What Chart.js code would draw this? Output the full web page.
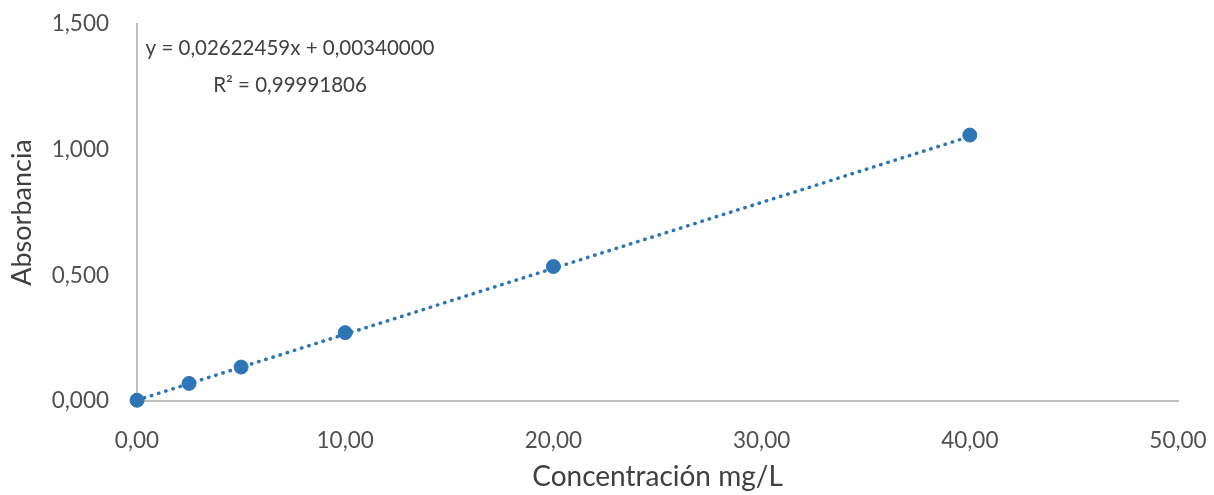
<!DOCTYPE html>
<html>
<head>
<meta charset="utf-8">
<script src="https://cdn.jsdelivr.net/npm/chart.js@4/dist/chart.umd.min.js"></script>
<style>
  html, body { margin: 0; padding: 0; background: #ffffff; }
  #wrap { width: 1214px; height: 495px; position: relative; }
</style>
</head>
<body>
<div id="wrap"><canvas id="c" width="1214" height="495"></canvas></div>
<script>
// Data
const concentrations = [0, 2.5, 5, 10, 20, 40];
const absorbances = [0.003, 0.070, 0.135, 0.272, 0.535, 1.058];
// Trendline endpoints (from the chart's fitted equation)
const trendX = [0, 40];
const trendY = [0.0034, 1.0524];
const equationLines = ["y = 0,02622459x + 0,00340000", "R² = 0,99991806"];
const xTitle = "Concentración mg/L";
const yTitle = "Absorbancia";

const FONT = "Lato, 'Open Sans', sans-serif";
const TEXT = "#404040";
const TICK = "#505050";
const BLUE = "#2e75b6";
const AXIS = "#bfbfbf";

const fmt = (v, d) => v.toFixed(d).replace('.', ',');

const equationPlugin = {
  id: 'equation',
  afterDraw(chart) {
    const ctx = chart.ctx;
    ctx.save();
    ctx.fillStyle = TEXT;
    ctx.font = "20.5px " + FONT;
    ctx.textAlign = 'center';
    ctx.textBaseline = 'middle';
    ctx.fillText(equationLines[0], 290, 48);
    ctx.fillText(equationLines[1], 290, 85);
    ctx.restore();
  }
};

new Chart(document.getElementById('c'), {
  type: 'scatter',
  data: {
    datasets: [
      {
        label: 'Tendencia',
        data: trendX.map((x, i) => ({ x, y: trendY[i] })),
        showLine: true,
        borderColor: BLUE,
        borderWidth: 3.5,
        borderDash: [0.5, 7],
        borderCapStyle: 'round',
        pointRadius: 0,
        fill: false,
        order: 2
      },
      {
        label: 'Absorbancia',
        data: concentrations.map((x, i) => ({ x, y: absorbances[i] })),
        backgroundColor: BLUE,
        borderColor: BLUE,
        pointRadius: 7,
        pointHoverRadius: 7,
        showLine: false,
        order: 1
      }
    ]
  },
  options: {
    responsive: false,
    animation: false,
    clip: false,
    layout: { padding: { top: 24, right: 36, left: 0, bottom: 0 } },
    plugins: { legend: { display: false }, tooltip: { enabled: false } },
    scales: {
      x: {
        type: 'linear',
        min: 0, max: 50,
        ticks: {
          stepSize: 10,
          color: TICK,
          font: { family: FONT, size: 22.5 },
          padding: 26,
          callback: v => fmt(v, 2),
          maxRotation: 0
        },
        grid: { display: false, drawTicks: false },
        border: { display: true, color: AXIS, width: 2 },
        title: {
          display: true, text: xTitle, color: TEXT,
          font: { family: FONT, size: 28 },
          padding: { top: 0, bottom: 1 }
        },
        afterFit: s => { s.height = 94; s.paddingLeft = 0; s.paddingRight = 0; }
      },
      y: {
        type: 'linear',
        min: 0, max: 1.5,
        ticks: {
          stepSize: 0.5,
          color: TICK,
          font: { family: FONT, size: 22.5 },
          padding: 28,
          callback: v => fmt(v, 3)
        },
        grid: { display: false, drawTicks: false },
        border: { display: true, color: AXIS, width: 2 },
        title: {
          display: true, text: yTitle, color: TEXT,
          font: { family: FONT, size: 27 },
          padding: { top: 6, bottom: 0 }
        },
        afterFit: s => { s.width = 137; s.paddingTop = 0; s.paddingBottom = 0; }
      }
    }
  },
  plugins: [equationPlugin]
});
</script>
</body>
</html>
